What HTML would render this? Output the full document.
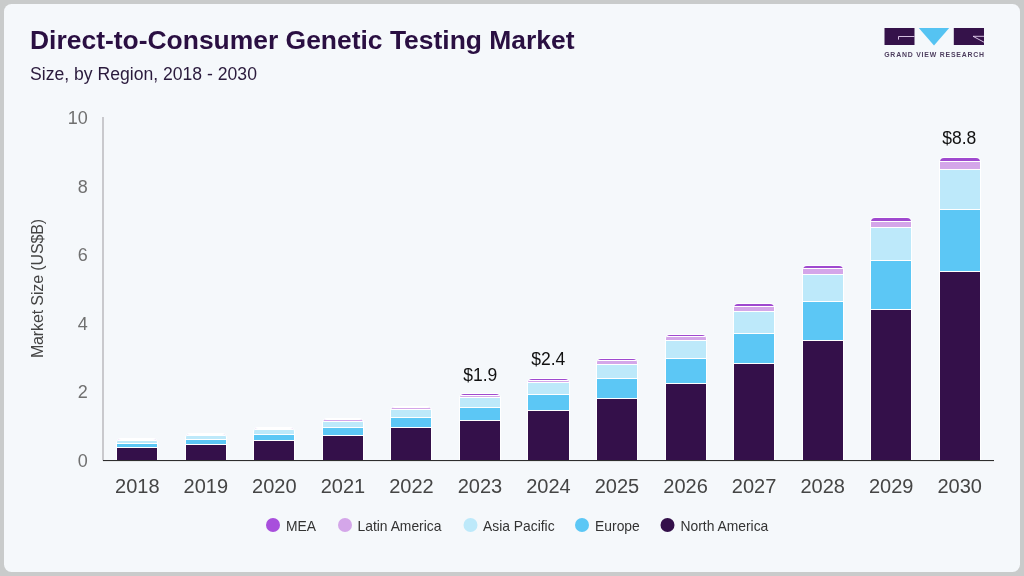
<!DOCTYPE html>
<html><head><meta charset="utf-8"><style>
html,body{margin:0;padding:0}
body{width:1024px;height:576px;background:#c9cbcb;overflow:hidden;font-family:"Liberation Sans",sans-serif;position:relative}
.card{position:absolute;left:4px;top:4px;width:1016px;height:568px;background:#f5f8fb;border-radius:7.5px}
.title{position:absolute;left:30px;top:25.75px;font-size:26.45px;font-weight:bold;color:#2a0f42;white-space:nowrap;line-height:29px;will-change:transform}
.sub{position:absolute;left:30px;top:64.75px;font-size:17.6px;color:#2a1a3c;white-space:nowrap;line-height:19px;will-change:transform}
svg{position:absolute;left:0;top:0;will-change:transform}
svg text{font-family:"Liberation Sans",sans-serif}
.xl{font-size:20px;fill:#454545}
.yl{font-size:18px;fill:#707070}
.dl{font-size:17.5px;fill:#111}
.lg{font-size:15px;fill:#333}
.ax{font-size:16px;fill:#444}
.lt{font-size:6.9px;font-weight:bold;fill:#4d3d5e}
</style></head><body>
<div class="card"></div>
<div class="title">Direct-to-Consumer Genetic Testing Market</div>
<div class="sub">Size, by Region, 2018 - 2030</div>
<svg width="1024" height="576" viewBox="0 0 1024 576">
<g>
<rect x="884.5" y="28" width="30" height="17" fill="#35124a"/>
<path d="M914.5 36.5 H898.5 V39.6" fill="none" stroke="#e6d3f0" stroke-width="0.9"/>
<path d="M918.8 28 H949.2 L934 45.6 Z" fill="#55c3f2"/>
<rect x="953.8" y="28" width="30.2" height="17" fill="#35124a"/>
<path d="M984 36.3 H973 L984 42.2" fill="none" stroke="#e6d3f0" stroke-width="0.9"/>
<text x="884.2" y="57.2" class="lt" textLength="99.8" lengthAdjust="spacing">GRAND VIEW RESEARCH</text>
</g>
<rect x="102" y="117" width="2" height="343.5" fill="#c9c9cd"/>
<defs><clipPath id="c2018"><path d="M117.0 462 V443.0 a4 4 0 0 1 4 -4 H153.0 a4 4 0 0 1 4 4 V462 Z"/></clipPath><clipPath id="c2019"><path d="M186.0 462 V438.0 a4 4 0 0 1 4 -4 H222.0 a4 4 0 0 1 4 4 V462 Z"/></clipPath><clipPath id="c2020"><path d="M254.0 462 V432.0 a4 4 0 0 1 4 -4 H290.0 a4 4 0 0 1 4 4 V462 Z"/></clipPath><clipPath id="c2021"><path d="M323.0 462 V423.0 a4 4 0 0 1 4 -4 H359.0 a4 4 0 0 1 4 4 V462 Z"/></clipPath><clipPath id="c2022"><path d="M391.0 462 V411.0 a4 4 0 0 1 4 -4 H427.0 a4 4 0 0 1 4 4 V462 Z"/></clipPath><clipPath id="c2023"><path d="M460.0 462 V398.0 a4 4 0 0 1 4 -4 H496.0 a4 4 0 0 1 4 4 V462 Z"/></clipPath><clipPath id="c2024"><path d="M528.0 462 V383.0 a4 4 0 0 1 4 -4 H565.0 a4 4 0 0 1 4 4 V462 Z"/></clipPath><clipPath id="c2025"><path d="M597.0 462 V363.0 a4 4 0 0 1 4 -4 H633.0 a4 4 0 0 1 4 4 V462 Z"/></clipPath><clipPath id="c2026"><path d="M666.0 462 V339.0 a4 4 0 0 1 4 -4 H702.0 a4 4 0 0 1 4 4 V462 Z"/></clipPath><clipPath id="c2027"><path d="M734.0 462 V308.0 a4 4 0 0 1 4 -4 H770.0 a4 4 0 0 1 4 4 V462 Z"/></clipPath><clipPath id="c2028"><path d="M803.0 462 V270.0 a4 4 0 0 1 4 -4 H839.0 a4 4 0 0 1 4 4 V462 Z"/></clipPath><clipPath id="c2029"><path d="M871.0 462 V222.0 a4 4 0 0 1 4 -4 H907.0 a4 4 0 0 1 4 4 V462 Z"/></clipPath><clipPath id="c2030"><path d="M940.0 462 V162.0 a4 4 0 0 1 4 -4 H976.0 a4 4 0 0 1 4 4 V462 Z"/></clipPath></defs>
<path d="M116.0 460.5 V443.0 a5 5 0 0 1 5 -5 H153.0 a5 5 0 0 1 5 5 V460.5 Z" fill="#fff"/>
<g clip-path="url(#c2018)">
<rect x="116.5" y="438.5" width="41" height="1.0" fill="#9f49cf" stroke="#fff" stroke-width="1"/>
<rect x="116.5" y="439.5" width="41" height="1.0" fill="#d4a6e9" stroke="#fff" stroke-width="1"/>
<rect x="116.5" y="440.5" width="41" height="3.0" fill="#bde9fa" stroke="#fff" stroke-width="1"/>
<rect x="116.5" y="443.5" width="41" height="4.0" fill="#5cc7f5" stroke="#fff" stroke-width="1"/>
<rect x="116.5" y="447.5" width="41" height="13.0" fill="#34104a" stroke="#fff" stroke-width="1"/>
</g>
<path d="M185.0 460.5 V438.0 a5 5 0 0 1 5 -5 H222.0 a5 5 0 0 1 5 5 V460.5 Z" fill="#fff"/>
<g clip-path="url(#c2019)">
<rect x="185.5" y="433.5" width="41" height="1.0" fill="#9f49cf" stroke="#fff" stroke-width="1"/>
<rect x="185.5" y="434.5" width="41" height="1.0" fill="#d4a6e9" stroke="#fff" stroke-width="1"/>
<rect x="185.5" y="435.5" width="41" height="4.0" fill="#bde9fa" stroke="#fff" stroke-width="1"/>
<rect x="185.5" y="439.5" width="41" height="5.0" fill="#5cc7f5" stroke="#fff" stroke-width="1"/>
<rect x="185.5" y="444.5" width="41" height="16.0" fill="#34104a" stroke="#fff" stroke-width="1"/>
</g>
<path d="M253.0 460.5 V432.0 a5 5 0 0 1 5 -5 H290.0 a5 5 0 0 1 5 5 V460.5 Z" fill="#fff"/>
<g clip-path="url(#c2020)">
<rect x="253.5" y="427.5" width="41" height="1.0" fill="#9f49cf" stroke="#fff" stroke-width="1"/>
<rect x="253.5" y="428.5" width="41" height="1.0" fill="#d4a6e9" stroke="#fff" stroke-width="1"/>
<rect x="253.5" y="429.5" width="41" height="5.0" fill="#bde9fa" stroke="#fff" stroke-width="1"/>
<rect x="253.5" y="434.5" width="41" height="6.0" fill="#5cc7f5" stroke="#fff" stroke-width="1"/>
<rect x="253.5" y="440.5" width="41" height="20.0" fill="#34104a" stroke="#fff" stroke-width="1"/>
</g>
<path d="M322.0 460.5 V423.0 a5 5 0 0 1 5 -5 H359.0 a5 5 0 0 1 5 5 V460.5 Z" fill="#fff"/>
<g clip-path="url(#c2021)">
<rect x="322.5" y="418.5" width="41" height="1.0" fill="#9f49cf" stroke="#fff" stroke-width="1"/>
<rect x="322.5" y="419.5" width="41" height="2.0" fill="#d4a6e9" stroke="#fff" stroke-width="1"/>
<rect x="322.5" y="421.5" width="41" height="6.0" fill="#bde9fa" stroke="#fff" stroke-width="1"/>
<rect x="322.5" y="427.5" width="41" height="8.0" fill="#5cc7f5" stroke="#fff" stroke-width="1"/>
<rect x="322.5" y="435.5" width="41" height="25.0" fill="#34104a" stroke="#fff" stroke-width="1"/>
</g>
<path d="M390.0 460.5 V411.0 a5 5 0 0 1 5 -5 H427.0 a5 5 0 0 1 5 5 V460.5 Z" fill="#fff"/>
<g clip-path="url(#c2022)">
<rect x="390.5" y="406.5" width="41" height="1.0" fill="#9f49cf" stroke="#fff" stroke-width="1"/>
<rect x="390.5" y="407.5" width="41" height="2.0" fill="#d4a6e9" stroke="#fff" stroke-width="1"/>
<rect x="390.5" y="409.5" width="41" height="8.0" fill="#bde9fa" stroke="#fff" stroke-width="1"/>
<rect x="390.5" y="417.5" width="41" height="10.0" fill="#5cc7f5" stroke="#fff" stroke-width="1"/>
<rect x="390.5" y="427.5" width="41" height="33.0" fill="#34104a" stroke="#fff" stroke-width="1"/>
</g>
<path d="M459.0 460.5 V398.0 a5 5 0 0 1 5 -5 H496.0 a5 5 0 0 1 5 5 V460.5 Z" fill="#fff"/>
<g clip-path="url(#c2023)">
<rect x="459.5" y="393.5" width="41" height="2.0" fill="#9f49cf" stroke="#fff" stroke-width="1"/>
<rect x="459.5" y="395.5" width="41" height="2.0" fill="#d4a6e9" stroke="#fff" stroke-width="1"/>
<rect x="459.5" y="397.5" width="41" height="10.0" fill="#bde9fa" stroke="#fff" stroke-width="1"/>
<rect x="459.5" y="407.5" width="41" height="13.0" fill="#5cc7f5" stroke="#fff" stroke-width="1"/>
<rect x="459.5" y="420.5" width="41" height="40.0" fill="#34104a" stroke="#fff" stroke-width="1"/>
</g>
<path d="M527.0 460.5 V383.0 a5 5 0 0 1 5 -5 H565.0 a5 5 0 0 1 5 5 V460.5 Z" fill="#fff"/>
<g clip-path="url(#c2024)">
<rect x="527.5" y="378.5" width="42" height="2.0" fill="#9f49cf" stroke="#fff" stroke-width="1"/>
<rect x="527.5" y="380.5" width="42" height="2.0" fill="#d4a6e9" stroke="#fff" stroke-width="1"/>
<rect x="527.5" y="382.5" width="42" height="12.0" fill="#bde9fa" stroke="#fff" stroke-width="1"/>
<rect x="527.5" y="394.5" width="42" height="16.0" fill="#5cc7f5" stroke="#fff" stroke-width="1"/>
<rect x="527.5" y="410.5" width="42" height="50.0" fill="#34104a" stroke="#fff" stroke-width="1"/>
</g>
<path d="M596.0 460.5 V363.0 a5 5 0 0 1 5 -5 H633.0 a5 5 0 0 1 5 5 V460.5 Z" fill="#fff"/>
<g clip-path="url(#c2025)">
<rect x="596.5" y="358.5" width="41" height="2.0" fill="#9f49cf" stroke="#fff" stroke-width="1"/>
<rect x="596.5" y="360.5" width="41" height="4.0" fill="#d4a6e9" stroke="#fff" stroke-width="1"/>
<rect x="596.5" y="364.5" width="41" height="14.0" fill="#bde9fa" stroke="#fff" stroke-width="1"/>
<rect x="596.5" y="378.5" width="41" height="20.0" fill="#5cc7f5" stroke="#fff" stroke-width="1"/>
<rect x="596.5" y="398.5" width="41" height="62.0" fill="#34104a" stroke="#fff" stroke-width="1"/>
</g>
<path d="M665.0 460.5 V339.0 a5 5 0 0 1 5 -5 H702.0 a5 5 0 0 1 5 5 V460.5 Z" fill="#fff"/>
<g clip-path="url(#c2026)">
<rect x="665.5" y="334.5" width="41" height="2.0" fill="#9f49cf" stroke="#fff" stroke-width="1"/>
<rect x="665.5" y="336.5" width="41" height="4.0" fill="#d4a6e9" stroke="#fff" stroke-width="1"/>
<rect x="665.5" y="340.5" width="41" height="18.0" fill="#bde9fa" stroke="#fff" stroke-width="1"/>
<rect x="665.5" y="358.5" width="41" height="25.0" fill="#5cc7f5" stroke="#fff" stroke-width="1"/>
<rect x="665.5" y="383.5" width="41" height="77.0" fill="#34104a" stroke="#fff" stroke-width="1"/>
</g>
<path d="M733.0 460.5 V308.0 a5 5 0 0 1 5 -5 H770.0 a5 5 0 0 1 5 5 V460.5 Z" fill="#fff"/>
<g clip-path="url(#c2027)">
<rect x="733.5" y="303.5" width="41" height="3.0" fill="#9f49cf" stroke="#fff" stroke-width="1"/>
<rect x="733.5" y="306.5" width="41" height="5.0" fill="#d4a6e9" stroke="#fff" stroke-width="1"/>
<rect x="733.5" y="311.5" width="41" height="22.0" fill="#bde9fa" stroke="#fff" stroke-width="1"/>
<rect x="733.5" y="333.5" width="41" height="30.0" fill="#5cc7f5" stroke="#fff" stroke-width="1"/>
<rect x="733.5" y="363.5" width="41" height="97.0" fill="#34104a" stroke="#fff" stroke-width="1"/>
</g>
<path d="M802.0 460.5 V270.0 a5 5 0 0 1 5 -5 H839.0 a5 5 0 0 1 5 5 V460.5 Z" fill="#fff"/>
<g clip-path="url(#c2028)">
<rect x="802.5" y="265.5" width="41" height="3.0" fill="#9f49cf" stroke="#fff" stroke-width="1"/>
<rect x="802.5" y="268.5" width="41" height="6.0" fill="#d4a6e9" stroke="#fff" stroke-width="1"/>
<rect x="802.5" y="274.5" width="41" height="27.0" fill="#bde9fa" stroke="#fff" stroke-width="1"/>
<rect x="802.5" y="301.5" width="41" height="39.0" fill="#5cc7f5" stroke="#fff" stroke-width="1"/>
<rect x="802.5" y="340.5" width="41" height="120.0" fill="#34104a" stroke="#fff" stroke-width="1"/>
</g>
<path d="M870.0 460.5 V222.0 a5 5 0 0 1 5 -5 H907.0 a5 5 0 0 1 5 5 V460.5 Z" fill="#fff"/>
<g clip-path="url(#c2029)">
<rect x="870.5" y="217.5" width="41" height="4.0" fill="#9f49cf" stroke="#fff" stroke-width="1"/>
<rect x="870.5" y="221.5" width="41" height="6.0" fill="#d4a6e9" stroke="#fff" stroke-width="1"/>
<rect x="870.5" y="227.5" width="41" height="33.0" fill="#bde9fa" stroke="#fff" stroke-width="1"/>
<rect x="870.5" y="260.5" width="41" height="49.0" fill="#5cc7f5" stroke="#fff" stroke-width="1"/>
<rect x="870.5" y="309.5" width="41" height="151.0" fill="#34104a" stroke="#fff" stroke-width="1"/>
</g>
<path d="M939.0 460.5 V162.0 a5 5 0 0 1 5 -5 H976.0 a5 5 0 0 1 5 5 V460.5 Z" fill="#fff"/>
<g clip-path="url(#c2030)">
<rect x="939.5" y="157.5" width="41" height="4.0" fill="#9f49cf" stroke="#fff" stroke-width="1"/>
<rect x="939.5" y="161.5" width="41" height="8.0" fill="#d4a6e9" stroke="#fff" stroke-width="1"/>
<rect x="939.5" y="169.5" width="41" height="40.0" fill="#bde9fa" stroke="#fff" stroke-width="1"/>
<rect x="939.5" y="209.5" width="41" height="62.0" fill="#5cc7f5" stroke="#fff" stroke-width="1"/>
<rect x="939.5" y="271.5" width="41" height="189.0" fill="#34104a" stroke="#fff" stroke-width="1"/>
</g>
<rect x="103" y="461" width="891" height="1" fill="#fbfdff"/>
<rect x="103" y="460" width="891" height="1.1" fill="#2e2e2e"/>
<text x="137.3" y="493" text-anchor="middle" class="xl">2018</text><text x="205.8" y="493" text-anchor="middle" class="xl">2019</text><text x="274.3" y="493" text-anchor="middle" class="xl">2020</text><text x="342.9" y="493" text-anchor="middle" class="xl">2021</text><text x="411.4" y="493" text-anchor="middle" class="xl">2022</text><text x="480.0" y="493" text-anchor="middle" class="xl">2023</text><text x="548.5" y="493" text-anchor="middle" class="xl">2024</text><text x="617.0" y="493" text-anchor="middle" class="xl">2025</text><text x="685.6" y="493" text-anchor="middle" class="xl">2026</text><text x="754.1" y="493" text-anchor="middle" class="xl">2027</text><text x="822.7" y="493" text-anchor="middle" class="xl">2028</text><text x="891.2" y="493" text-anchor="middle" class="xl">2029</text><text x="959.7" y="493" text-anchor="middle" class="xl">2030</text>
<text x="87.8" y="466.9" text-anchor="end" class="yl">0</text><text x="87.8" y="398.3" text-anchor="end" class="yl">2</text><text x="87.8" y="329.7" text-anchor="end" class="yl">4</text><text x="87.8" y="261.1" text-anchor="end" class="yl">6</text><text x="87.8" y="192.5" text-anchor="end" class="yl">8</text><text x="87.8" y="123.9" text-anchor="end" class="yl">10</text>
<text transform="translate(43,288.5) rotate(-90)" x="-69.6" textLength="139.2" lengthAdjust="spacing" class="ax">Market Size (US$B)</text>
<text x="480.3" y="380.7" text-anchor="middle" class="dl">$1.9</text>
<text x="548.3" y="364.8" text-anchor="middle" class="dl">$2.4</text>
<text x="959.3" y="143.8" text-anchor="middle" class="dl">$8.8</text>
<circle cx="273" cy="525" r="7" fill="#a84fdc"/><text transform="translate(286.0,531) scale(0.924,1)" class="lg">MEA</text>
<circle cx="345" cy="525" r="7" fill="#d4a6e9"/><text transform="translate(357.5,531) scale(0.924,1)" class="lg">Latin America</text>
<circle cx="470.5" cy="525" r="7" fill="#bde9fa"/><text transform="translate(483.0,531) scale(0.924,1)" class="lg">Asia Pacific</text>
<circle cx="582" cy="525" r="7" fill="#5cc7f5"/><text transform="translate(595.1,531) scale(0.924,1)" class="lg">Europe</text>
<circle cx="667.5" cy="525" r="7" fill="#34104a"/><text transform="translate(680.5,531) scale(0.924,1)" class="lg">North America</text>

</svg>
</body></html>
